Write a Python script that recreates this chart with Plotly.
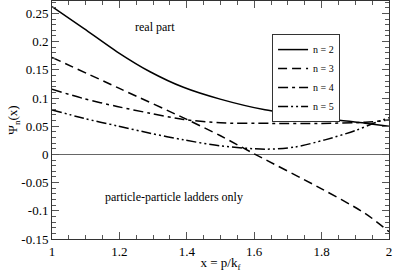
import plotly.graph_objects as go

x_n2 = [1.0, 1.094, 1.193, 1.291, 1.39, 1.499, 1.632, 1.78, 1.929, 2.0]
y_n2 = [0.262, 0.2235, 0.182, 0.1466, 0.119, 0.098, 0.079, 0.066, 0.0553, 0.050]

x_n3 = [1.0, 1.2, 1.4, 1.5, 1.6, 1.8, 1.93, 2.0]
y_n3 = [0.172, 0.117, 0.062, 0.033, 0.001, -0.061, -0.105, -0.137]

x_n4 = [1.0, 1.094, 1.193, 1.291, 1.39, 1.5, 1.65, 1.8, 1.93, 2.0]
y_n4 = [0.1155, 0.099, 0.085, 0.073, 0.062, 0.056, 0.055, 0.055, 0.057, 0.061]

x_n5 = [1.0, 1.094, 1.193, 1.291, 1.39, 1.5, 1.632, 1.72, 1.81, 1.899, 1.958, 2.0]
y_n5 = [0.079, 0.064, 0.0506, 0.0376, 0.0258, 0.0152, 0.0093, 0.013, 0.0258, 0.042, 0.056, 0.065]

y_tickvals = [-0.15, -0.1, -0.05, 0, 0.05, 0.1, 0.15, 0.2, 0.25]
y_ticktext = ["-0.15", "-0.1", "-0.05", "0", "0.05", "0.1", "0.15", "0.2", "0.25"]
x_tickvals = [1, 1.2, 1.4, 1.6, 1.8, 2]
x_ticktext = ["1", "1.2", "1.4", "1.6", "1.8", "2"]

FONT = "Liberation Serif, Times New Roman, serif"

fig = go.Figure()
styles = [
    ("n = 2", x_n2, y_n2, "solid"),
    ("n = 3", x_n3, y_n3, "9px,5px"),
    ("n = 4", x_n4, y_n4, "10px,4px,3px,4px"),
    ("n = 5", x_n5, y_n5, "10px,3px,2px,3px,2px,3px"),
]
for name, xs, ys, dash in styles:
    fig.add_trace(go.Scatter(x=xs, y=ys, mode="lines", name=name,
                             line=dict(color="black", width=1.5, dash=dash, shape="spline", smoothing=0.8)))

axis_common = dict(showgrid=False, showline=True, linecolor="#333", linewidth=1, mirror="allticks",
                   ticks="inside", ticklen=7, tickcolor="#555", tickwidth=1, automargin=False,
                   tickfont=dict(family=FONT, size=13, color="black"))

fig.update_xaxes(range=[1, 2], tickvals=x_tickvals, ticktext=x_ticktext,
                 minor=dict(dtick=0.05, ticks="inside", ticklen=4, tickcolor="#555"),
                 zeroline=False,
                 title=dict(text="x = p/k<sub>f</sub>", font=dict(family=FONT, size=13, color="black"), standoff=0),
                 **axis_common)
fig.update_yaxes(range=[-0.15, 0.272], tickvals=y_tickvals, ticktext=y_ticktext,
                 minor=dict(dtick=0.01, tick0=0, ticks="inside", ticklen=4, tickcolor="#555"),
                 zeroline=True, zerolinecolor="#666", zerolinewidth=1,
                 title=dict(text="Ψ<sub>n</sub>(x)", font=dict(family=FONT, size=13, color="black"), standoff=0),
                 **axis_common)

fig.add_annotation(x=1.306, y=0.226, text="real part", showarrow=False,
                   font=dict(family=FONT, size=12, color="black"))
fig.add_annotation(x=1.363, y=-0.075, text="particle-particle ladders only", showarrow=False,
                   font=dict(family=FONT, size=12, color="black"))

fig.update_layout(
    width=395, height=272,
    margin=dict(l=52, r=6, t=1, b=33),
    paper_bgcolor="white", plot_bgcolor="white",
    legend=dict(x=0.653, y=0.861, xanchor="left", yanchor="top",
                bordercolor="#333", borderwidth=1, bgcolor="white",
                font=dict(family=FONT, size=10, color="black"),
                tracegroupgap=0, itemwidth=30),
    showlegend=True,
)

fig.write_html("out.html", config={"displayModeBar": False},
               post_script="document.body.style.margin='0';document.body.style.overflow='hidden';")
